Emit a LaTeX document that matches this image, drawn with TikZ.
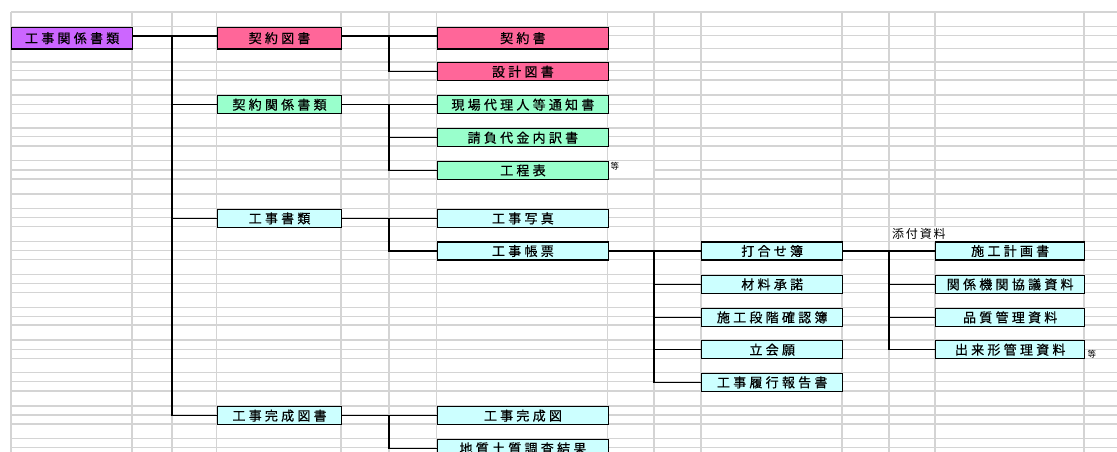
\documentclass[tikz,border=0pt]{standalone}
\usepackage{fontspec}
\newfontfamily\jp{Noto Sans CJK JP}[LetterSpace=25, FakeBold=0.6]
\newfontfamily\jps{Noto Sans CJK JP}
\definecolor{purp}{HTML}{CC66FF}
\definecolor{pinkc}{HTML}{FF6699}
\definecolor{greenc}{HTML}{99FFCC}
\definecolor{cyanc}{HTML}{CCFFFF}
\definecolor{gridc}{HTML}{D4D4D4}
\begin{document}
\begin{tikzpicture}[x=1pt,y=-1pt,
  box/.style={draw=black, line width=1.4pt, minimum height=18pt, inner sep=0pt, anchor=north west,
    font=\jp\fontsize{13}{14}\selectfont},
  colA/.style={box, minimum width=121pt},
  colB/.style={box, minimum width=124.3pt},
  colC/.style={box, minimum width=171pt},
  colD/.style={box, minimum width=141pt},
  colE/.style={box, minimum width=149pt},
  conn/.style={line width=1.1pt, draw=black},
  gridline/.style={line width=1.1pt, draw=gridc},
  small/.style={inner sep=0pt, font=\jps\fontsize{8.5}{9}\selectfont}]
\path[use as bounding box, clip] (0,0) rectangle (1117,452);
\fill[white] (0,0) rectangle (1117,452);
% grid
\foreach \x in {11,132,172,216.7,341,389,436.7,607.7,654,701,842,889,935,1084}
  \draw[gridline] (\x,12) -- (\x,452);
\foreach \y in {12,26.7,35.3,48.3,62,70.7,80,95,104.3,113.3,128,136.7,146,160.7,170,179,194,208.7,217.7,226.7,241.3,250.3,259.7,274.7,283.7,292.7,307.7,316.3,325,340,349.3,358.3,372.7,381.7,391,406,415,424,438.7,447.7}
  \draw[gridline] (11,\y) -- (1117,\y);
% cells with overflowing text
\fill[white] (608.5,161.3) rectangle (653.4,178.4);
\fill[white] (934,227.3) rectangle (936,240.7);
% boxes
\node[colA, fill=purp, minimum height=21.6pt] (root) at (11,26.7) {工事関係書類};
\node[colB, fill=pinkc, minimum height=21.6pt] (kz) at (216.7,26.7) {契約図書};
\node[colC, fill=pinkc, minimum height=21.6pt] (ks) at (436.7,26.7) {契約書};
\node[colC, fill=pinkc] (sz) at (436.7,62) {設計図書};
\node[colB, fill=greenc] (kk) at (216.7,95) {契約関係書類};
\node[colC, fill=greenc] (gd) at (436.7,95) {現場代理人等通知書};
\node[colC, fill=greenc] (uk) at (436.7,128) {請負代金内訳書};
\node[colC, fill=greenc] (kt) at (436.7,160.7) {工程表};
\node[colB, fill=cyanc] (ksr) at (216.7,208.7) {工事書類};
\node[colC, fill=cyanc] (ksh) at (436.7,208.7) {工事写真};
\node[colC, fill=cyanc] (kch) at (436.7,241.3) {工事帳票};
\node[colD, fill=cyanc] (ua) at (701,241.3) {打合せ簿};
\node[colD, fill=cyanc] (zs) at (701,274.7) {材料承諾};
\node[colD, fill=cyanc] (sd) at (701,307.7) {施工段階確認簿};
\node[colD, fill=cyanc] (tk) at (701,340) {立会願};
\node[colD, fill=cyanc] (rk) at (701,372.7) {工事履行報告書};
\node[colE, fill=cyanc] (sk) at (935,241.3) {施工計画書};
\node[colE, fill=cyanc] (kb) at (935,274.7) {関係機関協議資料};
\node[colE, fill=cyanc] (hk) at (935,307.7) {品質管理資料};
\node[colE, fill=cyanc] (dk) at (935,340) {出来形管理資料};
\node[colB, fill=cyanc] (kkz) at (216.7,406) {工事完成図書};
\node[colC, fill=cyanc] (kkd) at (436.7,406) {工事完成図};
\node[colC, fill=cyanc] (cc) at (436.7,438.7) {地質土質調査結果};
% labels
\node[small, anchor=north west] (tou1) at (610.5,162.5) {等};
\node[small, anchor=north west] (tou2) at (1087.5,350.5) {等};
\node[inner sep=0pt, anchor=west, font=\jps\fontsize{12}{13}\selectfont\addfontfeature{LetterSpace=15}] (tenpu) at (892,234) {添付資料};
% trunks
\coordinate (t1) at (172,0);
\coordinate (t2) at (389,0);
\coordinate (t3) at (654,0);
\coordinate (t4) at (889,0);
\coordinate (r0) at ([yshift=2.2pt]root.east);
\coordinate (k0) at ([yshift=2.2pt]kz.east);
\coordinate (kzw) at ([yshift=2.2pt]kz.west);
\coordinate (ksw) at ([yshift=2.2pt]ks.west);
% connectors
\draw[conn] (r0) -- (kzw);
\draw[conn] (r0 -| t1) |- (kk.west);
\draw[conn] (r0 -| t1) |- (ksr.west);
\draw[conn] (r0 -| t1) |- (kkz.west);
\draw[conn] (k0) -- (ksw);
\draw[conn] (k0 -| t2) |- (sz.west);
\draw[conn] (kk.east) -- (gd.west);
\draw[conn] (kk.east -| t2) |- (uk.west);
\draw[conn] (kk.east -| t2) |- (kt.west);
\draw[conn] (ksr.east) -- (ksh.west);
\draw[conn] (ksr.east -| t2) |- (kch.west);
\draw[conn] (kch.east) -- (ua.west);
\draw[conn] (kch.east -| t3) |- (zs.west);
\draw[conn] (kch.east -| t3) |- (sd.west);
\draw[conn] (kch.east -| t3) |- (tk.west);
\draw[conn] (kch.east -| t3) |- (rk.west);
\draw[conn] (ua.east) -- (sk.west);
\draw[conn] (ua.east -| t4) |- (kb.west);
\draw[conn] (ua.east -| t4) |- (hk.west);
\draw[conn] (ua.east -| t4) |- (dk.west);
\draw[conn] (kkz.east) -- (kkd.west);
\draw[conn] (kkz.east -| t2) |- (cc.west);
\end{tikzpicture}
\end{document}
